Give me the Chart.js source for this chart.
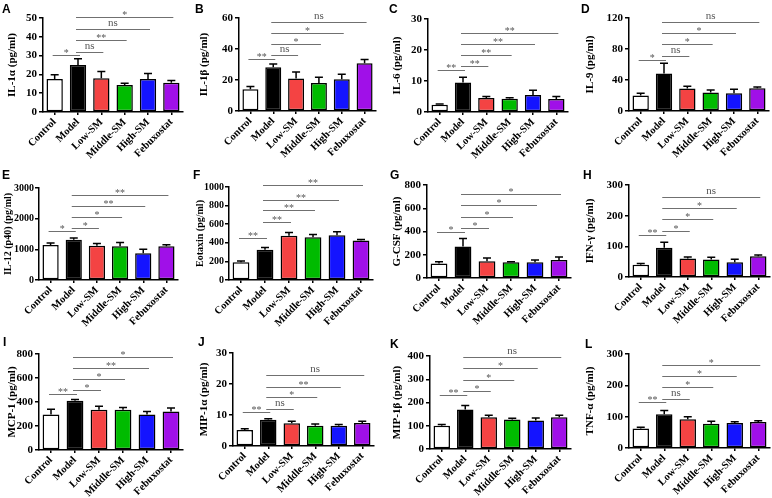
<!DOCTYPE html>
<html>
<head>
<meta charset="utf-8">
<script src="https://cdn.jsdelivr.net/npm/chart.js@4.4.1/dist/chart.umd.min.js"></script>
<style>
    body { margin: 0; background: #fff; width: 772px; height: 498px; position: relative; overflow: hidden; }
    canvas { position: absolute; }
    .letter { position: absolute; font: bold 12px 'Liberation Sans', Arial, sans-serif; color: #000; }
</style>
</head>
<body>
<script>
const groups = ['Control', 'Model', 'Low-SM', 'Middle-SM', 'High-SM', 'Febuxostat'];
const barColors = ['#ffffff', '#000000', '#f44343', '#00bb00', '#1414ff', '#a010e8'];

// mean, sem and significance brackets [from, to, level, label] per cytokine
const il1aMean = [17.5, 25, 18, 14.3, 17.5, 15.5];
const il1aSem = [2.3, 3.3, 3.5, 1.0, 3.0, 1.2];
const il1aSig = [[0, 1, 30.5, '*'], [1, 2, 32, 'ns'], [1, 3, 38.5, '**'], [1, 4, 44, 'ns'], [1, 5, 50.3, '*']];

const il1bMean = [14, 28.3, 21, 18, 20.5, 30.8];
const il1bSem = [1.8, 2.0, 4.2, 3.8, 3.2, 2.5];
const il1bSig = [[0, 1, 33.5, '**'], [1, 2, 36.3, 'ns'], [1, 3, 43.2, '*'], [1, 4, 50.3, '*'], [1, 5, 57.5, 'ns']];

const il6Mean = [2.3, 9.5, 4.5, 4.3, 5.5, 4.2];
const il6Sem = [0.3, 1.7, 0.5, 0.3, 1.5, 0.8];
const il6Sig = [[0, 1, 13.5, '**'], [1, 2, 14.8, '**'], [1, 3, 18.4, '**'], [1, 4, 22, '**'], [1, 5, 25.5, '**']];

const il9Mean = [20, 48.5, 29, 24, 23, 29.5];
const il9Sem = [3, 13, 3, 3, 5, 1.5];
const il9Sig = [[0, 1, 66, '*'], [1, 2, 71.6, 'ns'], [1, 3, 86, '*'], [1, 4, 100.6, '*'], [1, 5, 114.8, 'ns']];

const il12Mean = [1140, 1310, 1120, 1100, 870, 1100];
const il12Sem = [70, 60, 70, 120, 130, 50];
const il12Sig = [[0, 1, 1592, '*'], [1, 2, 1711, '*'], [1, 3, 2058, '*'], [1, 4, 2415, '**'], [1, 5, 2783, '**']];

const eotaxinMean = [190, 325, 475, 460, 480, 425];
const eotaxinSem = [15, 25, 35, 30, 40, 10];
const eotaxinSig = [[0, 1, 454, '**'], [1, 2, 625, '**'], [1, 3, 750, '**'], [1, 4, 864, '**'], [1, 5, 1018, '**']];

const gcsfMean = [125, 270, 145, 135, 135, 155];
const gcsfSem = [15, 70, 28, 5, 20, 25];
const gcsfSig = [[0, 1, 400, '*'], [1, 2, 434, '*'], [1, 3, 529, '*'], [1, 4, 626, '*'], [1, 5, 720, '*']];

const ifngMean = [40, 95, 60, 57, 48, 68];
const ifngSem = [4, 18, 5, 7, 10, 4];
const ifngSig = [[0, 1, 138.5, '**'], [1, 2, 151.6, '*'], [1, 3, 187.6, '*'], [1, 4, 223.6, '*'], [1, 5, 260.7, 'ns']];

const mcp1Mean = [295, 410, 335, 335, 295, 320];
const mcp1Sem = [45, 10, 30, 20, 25, 30];
const mcp1Sig = [[0, 1, 465, '**'], [1, 2, 496, '*'], [1, 3, 591, '*'], [1, 4, 680, '**'], [1, 5, 775, '*']];

const mip1aMean = [5.2, 8.5, 7.3, 6.5, 6.5, 7.4];
const mip1aSem = [0.4, 0.3, 0.7, 0.6, 0.4, 0.6];
const mip1aSig = [[0, 1, 10.9, '**'], [1, 2, 12, 'ns'], [1, 3, 15.75, '*'], [1, 4, 19.1, '**'], [1, 5, 22.8, 'ns']];

const mip1bMean = [100, 170, 137, 127, 123, 137];
const mip1bSem = [5, 17, 8, 5, 10, 8];
const mip1bSig = [[0, 1, 231.7, '**'], [1, 2, 249, '*'], [1, 3, 298, '*'], [1, 4, 346.8, '*'], [1, 5, 395.7, 'ns']];

const tnfaMean = [62, 108, 92, 77, 80, 83];
const tnfaSem = [4, 12, 8, 8, 4, 4];
const tnfaSig = [[0, 1, 145.7, '**'], [1, 2, 157.4, 'ns'], [1, 3, 193.6, '*'], [1, 4, 228.7, '*'], [1, 5, 265, '*']];

const panelLetters = ['A', 'B', 'C', 'D', 'E', 'F', 'G', 'H', 'I', 'J', 'K', 'L'];
const yTitles = ['IL-1α (pg/ml)', 'IL-1β (pg/ml)', 'IL-6 (pg/ml)', 'IL-9 (pg/ml)',
    'IL-12 (p40) (pg/ml)', 'Eotaxin (pg/ml)', 'G-CSF (pg/ml)', 'IFN-γ (pg/ml)',
    'MCP-1 (pg/ml)', 'MIP-1α (pg/ml)', 'MIP-1β (pg/ml)', 'TNF-α (pg/ml)'];
const yMax = [50, 60, 30, 120, 3000, 1000, 800, 300, 800, 30, 400, 300];
const yStep = [10, 20, 10, 40, 1000, 200, 200, 100, 200, 10, 100, 100];

const means = [il1aMean, il1bMean, il6Mean, il9Mean, il12Mean, eotaxinMean, gcsfMean, ifngMean, mcp1Mean, mip1aMean, mip1bMean, tnfaMean];
const sems = [il1aSem, il1bSem, il6Sem, il9Sem, il12Sem, eotaxinSem, gcsfSem, ifngSem, mcp1Sem, mip1aSem, mip1bSem, tnfaSem];
const sigs = [il1aSig, il1bSig, il6Sig, il9Sig, il12Sig, eotaxinSig, gcsfSig, ifngSig, mcp1Sig, mip1aSig, mip1bSig, tnfaSig];

// layout: canvas cells and plot boxes (left, right, top, bottom) in page pixels
const colX = [0, 192, 385, 578];
const rowY = [0, 166, 332];
const CW = 194, CH = 166;
const boxes = [
    [43, 183, 18, 112], [239, 376, 18, 111], [428, 568, 19, 112], [629, 769, 18, 111],
    [39, 178, 188, 280], [229, 373, 187, 280], [427, 571, 185, 278], [629, 770, 185, 277],
    [39, 183, 354, 450], [233, 374, 353, 446], [430, 571, 356, 449], [629, 770, 354, 448]
];
const letterPos = [[2, 2], [195, 2], [389, 2], [581, 2], [2, 168], [193, 168], [390, 168], [583, 168],
    [3, 335], [198, 335], [390, 337], [585, 337]];

const serif = "'Liberation Serif', 'Times New Roman', serif";

function makeAnnot(mean, sem, sig) {
    return {
        id: 'annot',
        afterDatasetsDraw(chart) {
            const { ctx, scales: { x, y } } = chart;
            const meta = chart.getDatasetMeta(0);
            ctx.save();
            // error bars (upper only)
            ctx.strokeStyle = '#000';
            ctx.lineWidth = 1.5;
            sem.forEach((e, i) => {
                const cx = meta.data[i].x;
                const y0 = y.getPixelForValue(mean[i]);
                const y1 = y.getPixelForValue(mean[i] + e);
                ctx.beginPath();
                ctx.moveTo(cx, y0);
                ctx.lineTo(cx, y1);
                ctx.moveTo(cx - 4, y1);
                ctx.lineTo(cx + 4, y1);
                ctx.stroke();
            });
            // significance lines
            ctx.strokeStyle = '#707070';
            ctx.fillStyle = '#555';
            ctx.lineWidth = 1;
            ctx.textAlign = 'center';
            ctx.textBaseline = 'bottom';
            sig.forEach(([a, b, v, label]) => {
                const xa = x.getPixelForValue(a);
                const xb = x.getPixelForValue(b);
                const yy = Math.round(y.getPixelForValue(v)) + 0.5;
                ctx.beginPath();
                ctx.moveTo(xa - 2, yy);
                ctx.lineTo(xb + 2, yy);
                ctx.stroke();
                ctx.font = (label === 'ns' ? '11px ' : '10px ') + serif;
                ctx.fillText(label, (xa + xb) / 2, label === 'ns' ? yy - 0.5 : yy + 3);
            });
            ctx.restore();
        }
    };
}

for (let p = 0; p < 12; p++) {
    const col = p % 4, row = Math.floor(p / 4);
    const [bl, br, bt, bb] = boxes[p];
    const relLeft = bl - colX[col], relRight = br - colX[col];
    const relTop = bt - rowY[row], relBottom = bb - rowY[row];

    const canvas = document.createElement('canvas');
    canvas.width = CW;
    canvas.height = CH;
    canvas.style.left = colX[col] + 'px';
    canvas.style.top = rowY[row] + 'px';
    document.body.appendChild(canvas);

    const letter = document.createElement('div');
    letter.className = 'letter';
    letter.textContent = panelLetters[p];
    letter.style.left = letterPos[p][0] + 'px';
    letter.style.top = letterPos[p][1] + 'px';
    document.body.appendChild(letter);

    const wide = yMax[p] >= 1000;
    const titleSize = yTitles[p].length > 14 ? 10 : 11;

    new Chart(canvas.getContext('2d'), {
        type: 'bar',
        data: {
            labels: groups,
            datasets: [{
                data: means[p],
                backgroundColor: barColors,
                borderColor: '#000',
                borderWidth: 1.5,
                borderSkipped: false,
                barPercentage: 0.7,
                categoryPercentage: 1
            }]
        },
        options: {
            responsive: false,
            animation: false,
            layout: { padding: { top: relTop, right: CW - relRight, left: 0, bottom: 0 } },
            plugins: { legend: { display: false }, tooltip: { enabled: false } },
            scales: {
                x: {
                    afterFit: s => { s.height = CH - relBottom; },
                    border: { color: '#000', width: 1.5 },
                    grid: { display: true, drawOnChartArea: false, offset: false, color: '#000', tickLength: 3, lineWidth: 1.5 },
                    ticks: {
                        color: '#000', minRotation: 45, maxRotation: 45, autoSkip: false, padding: 1,
                        font: { family: serif, weight: 'bold', size: 10.5 }
                    }
                },
                y: {
                    min: 0,
                    max: yMax[p],
                    afterFit: s => { s.width = relLeft; },
                    border: { color: '#000', width: 1.5 },
                    grid: { display: true, drawOnChartArea: false, color: '#000', tickLength: 4, lineWidth: 1.5 },
                    ticks: {
                        stepSize: yStep[p], color: '#000', padding: wide ? 1 : 2,
                        callback: v => String(v),
                        font: { family: serif, weight: 'bold', size: wide ? 10 : 11 }
                    },
                    title: {
                        display: true, text: yTitles[p], color: '#000', padding: { top: wide ? 2 : 6, bottom: 0 },
                        font: { family: serif, weight: 'bold', size: titleSize }
                    }
                }
            }
        },
        plugins: [makeAnnot(means[p], sems[p], sigs[p])]
    });
}
</script>
</body>
</html>
